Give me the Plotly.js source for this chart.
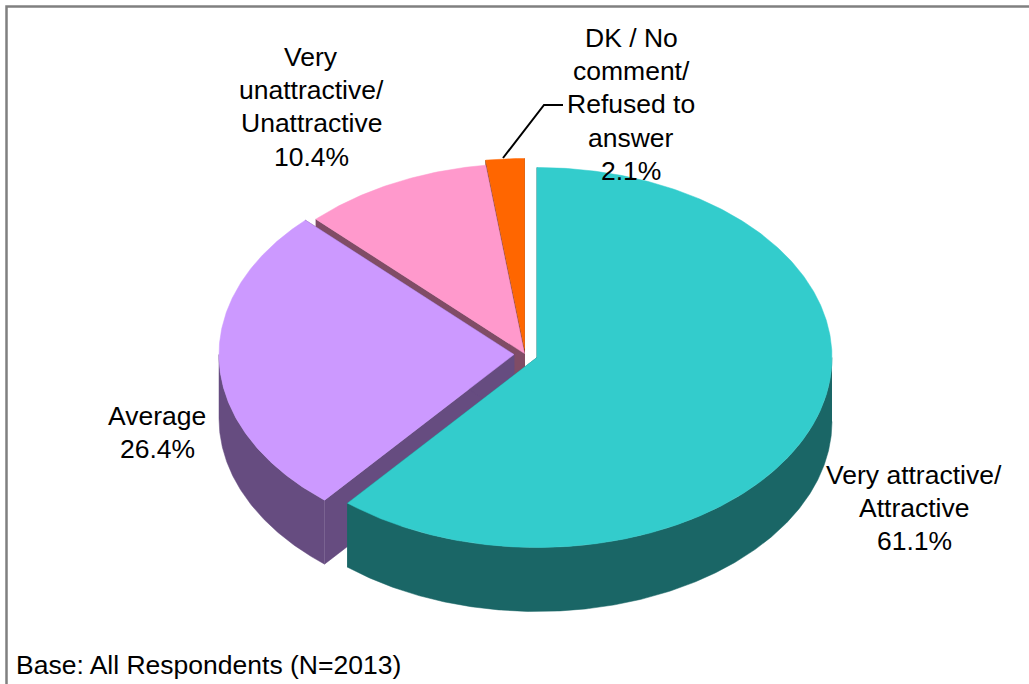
<!DOCTYPE html>
<html><head><meta charset="utf-8">
<script src="https://cdn.plot.ly/plotly-3.0.1.min.js"></script>
<style>html,body{margin:0;padding:0;background:#fff}#c{width:1029px;height:684px}</style></head>
<body><div id="c"></div>
<script>
// Data, in the reference's drawing order (clockwise from 12 o'clock)
const categories = ['Very attractive/|Attractive', 'Average', 'Very|unattractive/|Unattractive', 'DK / No|comment/|Refused to|answer'];
const values = [61.1, 26.4, 10.4, 2.1];
const topColors = ['#33CCCC', '#CC99FF', '#FF99CC', '#FF6600'];
const wallColors = ['#1A6666', '#664C80', '#804C66', '#803300'];
const baseNote = 'Base: All Respondents (N=2013)';

// Geometry of the tilted pie
const RX = 295, RY = 190, DEPTH = 64;
const centers = [[537, 357.5], [514, 354.5], [524.5, 353.5], [524.5, 348.5]];
const FONT = {family: 'Liberation Sans, Arial, sans-serif', size: 26.5, color: '#000'};
// label centre x and first-line y
const labelPos = [[914, 475], [157, 416], [311, 57], [631, 38]];
const LINE_GAP = 33.2;

function pt(c, deg, dz) {
  const a = deg * Math.PI / 180;
  return [c[0] + RX * Math.sin(a), c[1] - RY * Math.cos(a) + (dz || 0)];
}
function poly(points, color) {
  return {type: 'scatter', mode: 'lines', x: points.map(p => p[0]), y: points.map(p => p[1]),
    fill: 'toself', fillcolor: color, line: {color: color, width: 0.5}, hoverinfo: 'skip', showlegend: false};
}
function arc(c, a0, a1, dz) {
  const out = [], n = Math.max(2, Math.ceil((a1 - a0) * 2));
  for (let i = 0; i <= n; i++) out.push(pt(c, a0 + (a1 - a0) * i / n, dz));
  return out;
}
const total = values.reduce((s, v) => s + v, 0);
const starts = [];
values.reduce((s, v, i) => { starts[i] = s; return s + v / total * 360; }, 0);

const traces = [];
// back to front: last slice first
for (let i = values.length - 1; i >= 0; i--) {
  const c = centers[i], a0 = starts[i], a1 = a0 + values[i] / total * 360;
  // cut faces
  [a0, a1].forEach(a => {
    const e = pt(c, a, 0), ed = pt(c, a, DEPTH);
    traces.push(poly([c, e, ed, [c[0], c[1] + DEPTH], c], wallColors[i]));
  });
  // outer wall on the visible front half
  const f0 = Math.max(a0, 90), f1 = Math.min(a1, 270);
  if (f1 > f0) {
    traces.push(poly(arc(c, f0, f1, 0).concat(arc(c, f0, f1, DEPTH).reverse()), wallColors[i]));
  }
  // top face
  traces.push(poly([c].concat(arc(c, a0, a1, 0)).concat([c]), topColors[i]));
}

const annotations = [];
categories.forEach((name, i) => {
  name.split('|').concat([values[i].toFixed(1) + '%']).forEach((line, k) => {
    annotations.push({x: labelPos[i][0], y: labelPos[i][1] + k * LINE_GAP, xref: 'x', yref: 'y',
      showarrow: false, align: 'center', xanchor: 'center', yanchor: 'middle', font: FONT, text: line});
  });
});
annotations.push({x: 14, y: 665, xref: 'x', yref: 'y', showarrow: false, xanchor: 'left', yanchor: 'middle',
  align: 'left', font: FONT, text: baseNote});

const layout = {
  width: 1029, height: 684, margin: {l: 0, r: 0, t: 0, b: 0},
  paper_bgcolor: '#fff', plot_bgcolor: '#fff', showlegend: false,
  xaxis: {range: [0, 1029], visible: false, fixedrange: true},
  yaxis: {range: [684, 0], visible: false, fixedrange: true},
  annotations: annotations,
  shapes: [
    {type: 'path', xref: 'x', yref: 'y', path: 'M 6.5 690 L 6.5 6.5 L 1029 6.5', line: {color: '#808080', width: 2.5}, layer: 'below'},
    {type: 'path', xref: 'x', yref: 'y', path: 'M 503 158 L 544 105 L 563 105', line: {color: '#000', width: 2}, layer: 'above'}
  ]
};
Plotly.newPlot('c', traces, layout, {displayModeBar: false, staticPlot: true});
</script></body></html>
